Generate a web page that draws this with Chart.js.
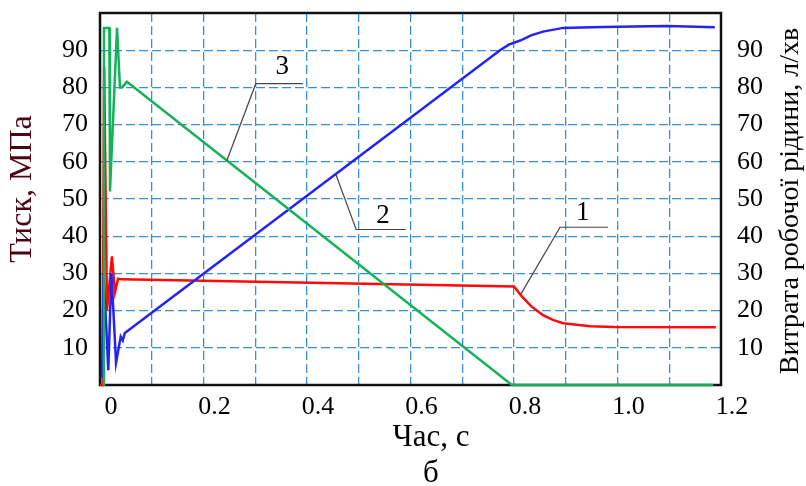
<!DOCTYPE html>
<html lang="uk">
<head>
<meta charset="utf-8">
<title>Тиск і витрата робочої рідини</title>
<script src="https://cdn.jsdelivr.net/npm/chart.js@4.4.1/dist/chart.umd.min.js"></script>
<style>
  html, body { margin: 0; padding: 0; background: #fff; }
  #chart { display: block; }
</style>
</head>
<body>
<canvas id="chart" width="806" height="486"></canvas>
<script>
// Tick labels
const xTickLabels = ['0', '0.2', '0.4', '0.6', '0.8', '1.0', '1.2'];
const yTickLabels = ['10', '20', '30', '40', '50', '60', '70', '80', '90'];

// Curve 1 - pressure (red)
const pressureTime = [0, 0.005, 0.008, 0.0135, 0.023, 0.029, 0.035, 0.042, 0.8, 0.8135, 0.833, 0.856, 0.875, 0.895, 0.947, 0.995, 1.19];
const pressureValues = [0, 0, 85.5, 20, 34.6, 25, 28.6, 28.4, 26.5, 24.1, 21.2, 18.8, 17.5, 16.6, 15.8, 15.6, 15.5];

// Curve 2 (blue)
const curve2Time = [0.004, 0.007, 0.013, 0.016, 0.022, 0.024, 0.031, 0.040, 0.044, 0.048, 0.773, 0.79, 0.812, 0.833, 0.856, 0.895, 0.95, 1.0, 1.096, 1.188];
const curve2Values = [2, 30, 13, 4, 30, 25, 6, 13, 12, 14, 90, 91.5, 92.6, 94, 95, 96, 96.2, 96.3, 96.5, 96.2];

// Curve 3 (green)
const curve3Time = [0.006, 0.0077, 0.018, 0.0193, 0.0329, 0.0386, 0.0425, 0.052, 0.796, 1.185];
const curve3Values = [0, 96, 96, 52, 96, 80, 80, 81.5, 0, 0];

const serif = "'Liberation Serif', 'Times New Roman', serif";
const gridBlue = '#3a8fd3';

function toPoints(xs, ys) {
    return xs.map(function(x, i) { return { x: x, y: ys[i] }; });
}

// fixed axis sizes so the plot area sits where the original one does
function fixSize(w, h) {
    return function(scale) {
        if (w !== null) scale.width = w;
        if (h !== null) scale.height = h;
        scale.paddingTop = 0;
        scale.paddingBottom = 0;
        scale.paddingLeft = 0;
        scale.paddingRight = 0;
    };
}

// Callouts: label text, label position, elbow and curve point (data units)
const callouts = [
    { text: '1', label: [0.933, 46.2], elbow: [0.889, 42.4], end: [0.982, 42.4], curve: [0.8135, 24.5] },
    { text: '2', label: [0.547, 45.4], elbow: [0.495, 41.8], end: [0.591, 41.8], curve: [0.456, 56.5] },
    { text: '3', label: [0.352, 85.6], elbow: [0.301, 81], end: [0.392, 81], curve: [0.245, 60.3] }
];

const framePlugin = {
    id: 'frame',
    beforeDatasetsDraw: function(chart) {
        const a = chart.chartArea;
        const ctx = chart.ctx;
        ctx.save();
        ctx.strokeStyle = '#111';
        ctx.lineWidth = 2.5;
        ctx.strokeRect(a.left, a.top, a.right - a.left, a.bottom - a.top);
        ctx.restore();
    },
    afterDraw: function(chart) {
        const ctx = chart.ctx;
        const xs = chart.scales.x;
        const ys = chart.scales.y;
        ctx.save();

        // callout leaders
        ctx.strokeStyle = '#444';
        ctx.lineWidth = 1.2;
        callouts.forEach(function(c) {
            ctx.beginPath();
            ctx.moveTo(xs.getPixelForValue(c.curve[0]), ys.getPixelForValue(c.curve[1]));
            ctx.lineTo(xs.getPixelForValue(c.elbow[0]), ys.getPixelForValue(c.elbow[1]));
            ctx.lineTo(xs.getPixelForValue(c.end[0]), ys.getPixelForValue(c.end[1]));
            ctx.stroke();
        });
        ctx.fillStyle = '#000';
        ctx.font = '27px ' + serif;
        ctx.textAlign = 'center';
        ctx.textBaseline = 'middle';
        callouts.forEach(function(c) {
            ctx.fillText(c.text, xs.getPixelForValue(c.label[0]), ys.getPixelForValue(c.label[1]));
        });

        // axis titles
        ctx.font = '31px ' + serif;
        ctx.fillText('Час, с', 431, 438);
        ctx.fillText('б', 431, 474);

        ctx.save();
        ctx.translate(23, 189);
        ctx.rotate(-Math.PI / 2);
        ctx.fillStyle = '#4a0612';
        ctx.font = '32px ' + serif;
        ctx.fillText('Тиск, МПа', 0, 0);
        ctx.restore();

        ctx.save();
        ctx.translate(791, 201);
        ctx.rotate(-Math.PI / 2);
        ctx.font = '28px ' + serif;
        ctx.fillText('Витрата робочої рідини, л/хв', 0, 0);
        ctx.restore();

        ctx.restore();
    }
};

const lineDefaults = { showLine: true, pointRadius: 0, borderWidth: 2.5, tension: 0, clip: false, fill: false };

new Chart(document.getElementById('chart'), {
    type: 'scatter',
    data: {
        datasets: [
            Object.assign({ label: '3', data: toPoints(curve3Time, curve3Values), borderColor: '#16b25a' }, lineDefaults),
            Object.assign({ label: '2', data: toPoints(curve2Time, curve2Values), borderColor: '#2424f0' }, lineDefaults),
            Object.assign({ label: '1', data: toPoints(pressureTime, pressureValues), borderColor: '#ff0a0a' }, lineDefaults)
        ]
    },
    options: {
        responsive: false,
        animation: false,
        layout: { padding: { top: 13, left: 0, right: 0, bottom: 0 } },
        plugins: { legend: { display: false }, tooltip: { enabled: false } },
        scales: {
            x: {
                type: 'linear',
                position: 'bottom',
                min: 0,
                max: 1.2,
                afterFit: fixSize(null, 101),
                border: { display: false, dash: [9, 4] },
                grid: { color: gridBlue, lineWidth: 1.3, drawTicks: false },
                ticks: {
                    stepSize: 0.1,
                    autoSkip: false,
                    maxRotation: 0,
                    padding: 7,
                    labelOffset: 11,
                    color: '#000',
                    font: { family: serif, size: 26 },
                    callback: function(value, index) {
                        return index % 2 === 0 ? xTickLabels[index / 2] : '';
                    }
                }
            },
            y: {
                type: 'linear',
                position: 'left',
                min: 0,
                max: 100,
                afterFit: fixSize(100, null),
                border: { display: false, dash: [9, 4] },
                grid: { color: gridBlue, lineWidth: 1.3, drawTicks: false },
                ticks: {
                    stepSize: 10,
                    padding: 12,
                    color: '#000',
                    font: { family: serif, size: 26 },
                    callback: function(value, index) {
                        return yTickLabels[index - 1] || '';
                    }
                }
            },
            yRight: {
                type: 'linear',
                position: 'right',
                min: 0,
                max: 100,
                afterFit: fixSize(85, null),
                border: { display: false },
                grid: { display: false, drawOnChartArea: false, drawTicks: false },
                ticks: {
                    stepSize: 10,
                    padding: 16,
                    color: '#000',
                    font: { family: serif, size: 26 },
                    callback: function(value, index) {
                        return yTickLabels[index - 1] || '';
                    }
                }
            }
        }
    },
    plugins: [framePlugin]
});
</script>
</body>
</html>
